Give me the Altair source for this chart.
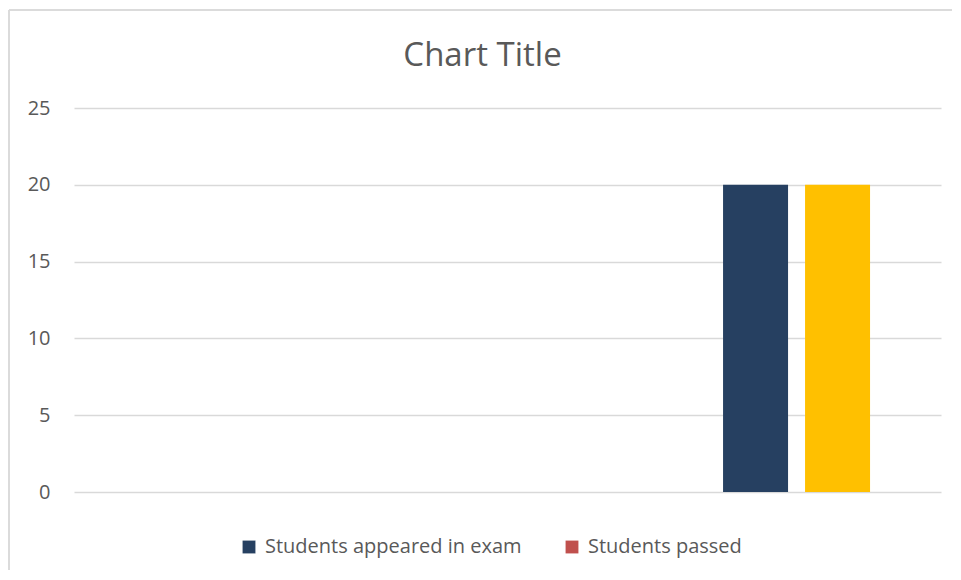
import altair as alt
import pandas as pd

# Slots across the single category (Excel clustered column layout)
slots = ["s1", "s2", "s3", "s4", "s5", "s6", "s7", "s8", "s9"]
bar_slots = ["s8", "s9"]
bar_series = ["Students appeared in exam", "Series3"]
bar_values = [20, 20]

legend_names = ["Students appeared in exam", "Students passed"]
all_series = ["Students appeared in exam", "Students passed", "Series3"]
series_colors = ["#264061", "#C0504D", "#FFC000"]

y_ticks = [0, 5, 10, 15, 20, 25]
chart_title = ["Chart Title"]

df = pd.DataFrame({"slot": bar_slots, "series": bar_series, "value": bar_values})
tdf = pd.DataFrame({"t": chart_title})

FONT = "Open Sans"
TXT = "#595959"
W, H = 867, 384

bars = alt.Chart(df).mark_bar(size=65).encode(
    x=alt.X("slot:N", scale=alt.Scale(domain=slots, paddingInner=0.207, paddingOuter=0.89, align=0.514),
            axis=None),
    y=alt.Y("value:Q", scale=alt.Scale(domain=[0, 25], nice=False),
            axis=alt.Axis(values=y_ticks, title=None, domain=False, ticks=False,
                          labelPadding=24, labelFontSize=20, labelFont=FONT, labelColor=TXT,
                          gridColor="#D9D9D9", gridWidth=1.5)),
    color=alt.Color("series:N", scale=alt.Scale(domain=all_series, range=series_colors),
                    legend=alt.Legend(values=legend_names, title=None, orient="none",
                                      legendX=165, legendY=429, direction="horizontal",
                                      symbolType="square", symbolSize=165, symbolStrokeWidth=0,
                                      labelFont=FONT, labelFontSize=20, labelColor=TXT,
                                      labelLimit=0, columnPadding=40, labelOffset=6)),
)

frame_top = alt.Chart(df).mark_rule(color="#D9D9D9", strokeWidth=1.5).encode(
    x=alt.value(-65), x2=alt.value(1000), y=alt.value(-98))
frame_left = alt.Chart(df).mark_rule(color="#D9D9D9", strokeWidth=1.5).encode(
    x=alt.value(-65), y=alt.value(-98), y2=alt.value(600))

title = alt.Chart(tdf).mark_text(font=FONT, fontSize=33, color=TXT, align="center",
                                 baseline="alphabetic").encode(
    text="t:N", x=alt.value(408.5), y=alt.value(-42))

chart = alt.layer(frame_top, frame_left, title, bars).properties(
    width=W, height=H,
    background="white",
    autosize=alt.AutoSizeParams(type="none"),
    padding={"left": 66, "top": 100, "right": 11, "bottom": 78},
).configure_view(stroke=None, strokeWidth=0)

chart.save("out.html", embed_options={"renderer": "svg", "actions": False})
